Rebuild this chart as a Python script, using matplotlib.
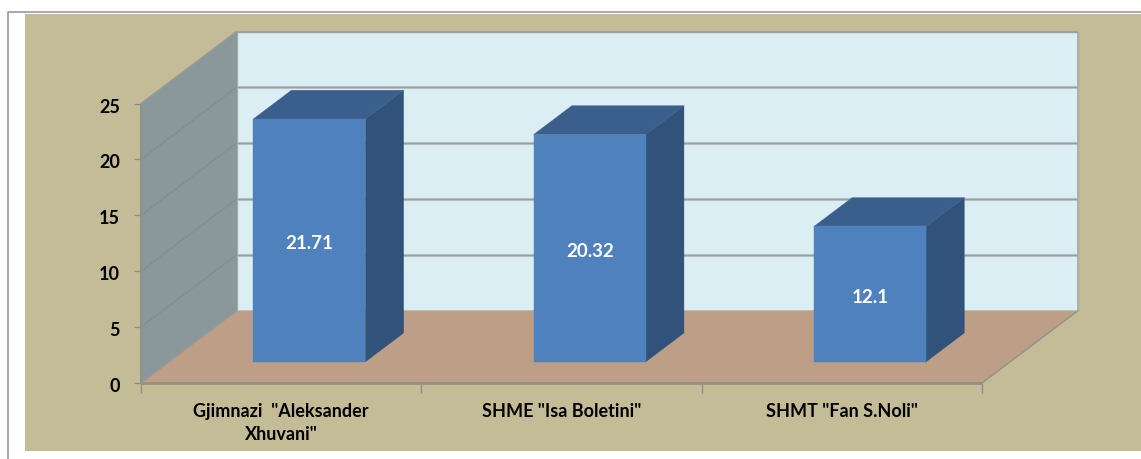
import matplotlib
matplotlib.use("Agg")
import matplotlib.pyplot as plt
from matplotlib.patches import Polygon, Rectangle
from matplotlib.transforms import ScaledTranslation

# Data
categories = ['Gjimnazi  "Aleksander\nXhuvani"', 'SHME "Isa Boletini"', 'SHMT "Fan S.Noli"']
values = [21.71, 20.32, 12.10]
value_labels = ['21.71', '20.32', '12.1']
y_ticks = [0, 5, 10, 15, 20, 25]

W, H = 1141, 459
plt.rcParams['font.family'] = ['Lato', 'DejaVu Sans']
fig = plt.figure(figsize=(W / 100, H / 100), dpi=100, facecolor='white')

# background panel and outer frame
fig.patches.append(Rectangle((25 / W, 1 - 451 / H), (W - 25) / W, (451 - 13.5) / H,
                             transform=fig.transFigure, fc='#C4BC96', ec='none', zorder=-5))
fig.add_artist(plt.Line2D([8 / W, 8 / W, 1], [0, 1 - 12 / H, 1 - 12 / H],
                          transform=fig.transFigure, color='#A3A3A3', lw=1.3, zorder=-4))

# front plane of the 3-D box
L, R, B, T = 141, 982, 383, 103.5
ax = fig.add_axes([L / W, 1 - B / H, (R - L) / W, (B - T) / H])
ax.set_zorder(5)
ax.set_xlim(0, 3)
ax.set_ylim(0, 25)
ax.patch.set_visible(False)
for s in ax.spines.values():
    s.set_visible(False)

px_x = (R - L) / 3
px_y = (B - T) / 25
DX = 95.5 / px_x   # total depth in data units
DY = 72 / px_y


def P(x, y, z):
    return (x + z * DX, y + z * DY)


def face(pts, color, ec=None, lw=0.3, zorder=2):
    ax.add_patch(Polygon(pts, closed=True, fc=color, ec=ec or color, lw=lw,
                         clip_on=False, zorder=zorder, joinstyle='round'))


def line(a, b, color, lw, zorder=2.5):
    ax.plot([a[0], b[0]], [a[1], b[1]], color=color, lw=lw, clip_on=False,
            zorder=zorder, solid_capstyle='butt')


ymax = y_ticks[-1]
# back wall, side wall, floor
face([P(0, 0, 1), P(3, 0, 1), P(3, ymax, 1), P(0, ymax, 1)], '#DBEEF4', ec='#A4B0B2', lw=1.0, zorder=1)
face([P(0, 0, 0), P(0, 0, 1), P(0, ymax, 1), P(0, ymax, 0)], '#8A989B', ec='#8A989B', lw=0.8, zorder=1.5)
face([P(0, 0, 0), P(3, 0, 0), P(3, 0, 1), P(0, 0, 1)], '#BC9F86', ec='#BC9F86', lw=0.8, zorder=1.6)

# gridlines
for v in y_ticks[1:-1]:
    a, b, c = P(0, v, 0), P(0, v, 1), P(3, v, 1)
    line(a, b, '#858C8A', 0.8)
    line(b, c, '#BAC6C9', 2.2, 1.8)
    line(b, c, '#949C9E', 0.9, 1.9)
top_a, top_b = P(0, ymax, 1), P(3, ymax, 1)
line(top_a, top_b, '#9AA3A3', 1.5)
line(P(0, ymax, 0), top_a, '#9C9F90', 0.8)

# box edges
line(P(0, 0, 0), P(0, ymax, 0), '#8B8F8E', 1.2, 3)
line(P(0, 0, 0), P(3, 0, 0), '#94917F', 2.0, 3)
line(P(3, 0, 0), P(3, 0, 1), '#94928A', 1.0, 3)
line(P(0, 0, 0), P(0, 0, 1), '#8F9A94', 0.8, 3)
line(P(3, 0, 1), P(3, ymax, 1), '#A4ACAC', 1.2, 1.9)

# bars
bar_w = 0.4
z0, z1 = 0.295, 0.695
for i, (v, lab) in enumerate(zip(values, value_labels)):
    x0, x1 = i + 0.5 - bar_w / 2, i + 0.5 + bar_w / 2
    face([P(x1, 0, z0), P(x1, 0, z1), P(x1, v, z1), P(x1, v, z0)], '#31527A', zorder=4)
    face([P(x0, v, z0), P(x1, v, z0), P(x1, v, z1), P(x0, v, z1)], '#3B5F8D', zorder=4)
    face([P(x0, 0, z0), P(x1, 0, z0), P(x1, v, z0), P(x0, v, z0)], '#4F81BD', zorder=5)
    ax.annotate(lab, P(i + 0.5, v / 2, z0), xytext=(0, -2.2), textcoords='offset points',
                color='white', fontsize=13.5, fontweight='bold',
                ha='center', va='center', zorder=6, annotation_clip=False)

# axes ticks
ax.set_yticks(y_ticks)
ax.tick_params(axis='y', length=5, width=0.9, color='#8A8A8A', pad=10,
               labelsize=13, labelcolor='black')
shift = ScaledTranslation(0, -1.5 / 72, fig.dpi_scale_trans)
for t in ax.get_yticklabels():
    t.set_fontweight('bold')
    t.set_transform(t.get_transform() + shift)
ax.set_xticks(range(len(categories) + 1))
ax.set_xticklabels([])
ax.tick_params(axis='x', which='major', length=7, width=0.9, color='#8A8A8A')
ax.set_xticks([i + 0.5 for i in range(len(categories))], minor=True)
ax.set_xticklabels(categories, minor=True, fontsize=13, fontweight='bold', color='black',
                   linespacing=1.4)
ax.tick_params(axis='x', which='minor', length=0, pad=14.5)

fig.savefig('out.png', dpi=100, facecolor='white')
